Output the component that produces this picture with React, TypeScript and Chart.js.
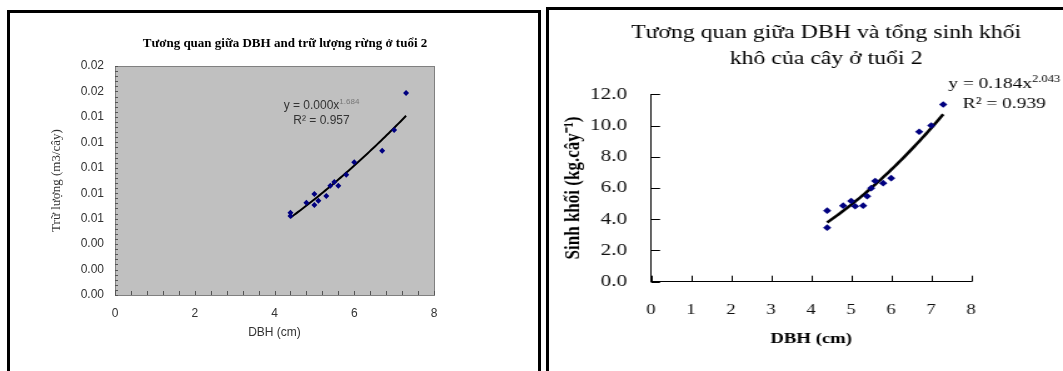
import React, { useEffect, useRef } from 'react';
import { Chart, registerables } from 'chart.js';

Chart.register(...registerables);

// ---------- Left chart data ----------
const LEFT_TITLE = 'Tương quan giữa DBH and trữ lượng rừng ở tuổi 2';
const LEFT_X_TITLE = 'DBH (cm)';
const LEFT_Y_TITLE = 'Trữ lượng (m3/cây)';
const LEFT_DBH = [4.4, 4.4, 4.8, 5.0, 5.0, 5.1, 5.3, 5.4, 5.5, 5.6, 5.8, 6.0, 6.7, 7.0, 7.3];
const LEFT_VOLUME = [0.00647, 0.00621, 0.00726, 0.00794, 0.00707, 0.00741, 0.00778, 0.00859, 0.00888, 0.00859, 0.00946, 0.01043, 0.01134, 0.01297, 0.01588];
const LEFT_EQ = 'y = 0.000x';
const LEFT_EQ_EXP = '1.684';
const LEFT_R2 = 'R² = 0.957';
const LEFT_X_MIN = 0;
const LEFT_X_MAX = 8;
const LEFT_X_STEP = 2;
const LEFT_Y_MIN = 0;
const LEFT_Y_MAX = 0.018;
const LEFT_Y_STEP = 0.002;

// ---------- Right chart data ----------
const RIGHT_TITLE = ['Tương quan giữa DBH và tổng sinh khối', 'khô của cây ở tuổi 2'];
const RIGHT_X_TITLE = 'DBH (cm)';
const RIGHT_Y_TITLE = 'Sinh khối (kg.cây⁻¹)';
const RIGHT_DBH = [4.4, 4.4, 4.8, 5.0, 5.1, 5.3, 5.4, 5.5, 5.6, 5.8, 6.0, 6.7, 7.0, 7.3];
const RIGHT_BIOMASS = [4.55, 3.46, 4.87, 5.17, 4.83, 4.87, 5.47, 5.99, 6.45, 6.31, 6.63, 9.6, 10.0, 11.35];
const RIGHT_EQ = 'y = 0.184x';
const RIGHT_EQ_EXP = '2.043';
const RIGHT_R2 = 'R² = 0.939';
const RIGHT_X_MIN = 0;
const RIGHT_X_MAX = 8;
const RIGHT_X_STEP = 1;
const RIGHT_Y_MIN = 0;
const RIGHT_Y_MAX = 12;
const RIGHT_Y_STEP = 2;

// ---------- helpers ----------
function powerFit(xs: number[], ys: number[]) {
  const lx = xs.map(Math.log);
  const ly = ys.map(Math.log);
  const n = xs.length;
  const mx = lx.reduce((a, b) => a + b, 0) / n;
  const my = ly.reduce((a, b) => a + b, 0) / n;
  let sxy = 0;
  let sxx = 0;
  for (let i = 0; i < n; i++) {
    sxy += (lx[i] - mx) * (ly[i] - my);
    sxx += (lx[i] - mx) * (lx[i] - mx);
  }
  const b = sxy / sxx;
  const a = Math.exp(my - b * mx);
  return { a, b };
}

function trendPoints(xs: number[], ys: number[], count: number) {
  const { a, b } = powerFit(xs, ys);
  const lo = Math.min(...xs);
  const hi = Math.max(...xs);
  const pts: { x: number; y: number }[] = [];
  for (let i = 0; i <= count; i++) {
    const x = lo + ((hi - lo) * i) / count;
    pts.push({ x, y: a * Math.pow(x, b) });
  }
  return pts;
}

type TextItem = {
  text: string;
  sup?: string;
  x: number;
  y: number;
  font: string;
  supFont?: string;
  color: string;
  supColor?: string;
  supShift?: number;
};

function textPlugin(items: TextItem[]) {
  return {
    id: 'freeText',
    afterDraw(chart: any) {
      const ctx = chart.ctx as CanvasRenderingContext2D;
      items.forEach((it) => {
        ctx.save();
        ctx.textBaseline = 'middle';
        ctx.textAlign = 'left';
        ctx.font = it.font;
        const w = ctx.measureText(it.text).width;
        let sw = 0;
        if (it.sup && it.supFont) {
          ctx.font = it.supFont;
          sw = ctx.measureText(it.sup).width;
        }
        const x0 = it.x - (w + sw) / 2;
        ctx.font = it.font;
        ctx.fillStyle = it.color;
        ctx.fillText(it.text, x0, it.y);
        if (it.sup && it.supFont) {
          ctx.font = it.supFont;
          ctx.fillStyle = it.supColor || it.color;
          ctx.fillText(it.sup, x0 + w, it.y - (it.supShift ?? 4));
        }
        ctx.restore();
      });
    },
  };
}

type TickCfg = { step: number; len: number; color: string; width: number };

function innerTicksPlugin(xCfg: TickCfg, yCfg: TickCfg) {
  return {
    id: 'innerTicks',
    afterDatasetsDraw(chart: any) {
      const ctx = chart.ctx as CanvasRenderingContext2D;
      const { left, bottom } = chart.chartArea;
      const xs = chart.scales.x;
      const ys = chart.scales.y;
      ctx.save();
      ctx.strokeStyle = xCfg.color;
      ctx.lineWidth = xCfg.width;
      const nx = Math.round((xs.max - xs.min) / xCfg.step);
      for (let i = 0; i <= nx; i++) {
        const px = Math.round(xs.getPixelForValue(xs.min + i * xCfg.step)) + 0.5;
        ctx.beginPath();
        ctx.moveTo(px, bottom);
        ctx.lineTo(px, bottom - xCfg.len);
        ctx.stroke();
      }
      ctx.strokeStyle = yCfg.color;
      ctx.lineWidth = yCfg.width;
      const ny = Math.round((ys.max - ys.min) / yCfg.step);
      for (let i = 0; i <= ny; i++) {
        const py = Math.round(ys.getPixelForValue(ys.min + i * yCfg.step)) + 0.5;
        ctx.beginPath();
        ctx.moveTo(left, py);
        ctx.lineTo(left + yCfg.len, py);
        ctx.stroke();
      }
      ctx.restore();
    },
  };
}

const plotFramePlugin = {
  id: 'plotFrame',
  beforeDatasetsDraw(chart: any) {
    const ctx = chart.ctx as CanvasRenderingContext2D;
    const { left, top, right, bottom } = chart.chartArea;
    ctx.save();
    ctx.fillStyle = '#C0C0C0';
    ctx.fillRect(left, top, right - left, bottom - top);
    ctx.strokeStyle = '#808080';
    ctx.lineWidth = 1;
    ctx.strokeRect(Math.round(left) + 0.5, Math.round(top) + 0.5, Math.round(right - left), Math.round(bottom - top));
    ctx.restore();
  },
};

const SANS = '"Liberation Sans", Arial, sans-serif';
const SERIF = '"Liberation Serif", "Times New Roman", serif';

function LeftChart() {
  const ref = useRef<HTMLCanvasElement | null>(null);
  useEffect(() => {
    if (!ref.current) return;
    const points = LEFT_DBH.map((x, i) => ({ x, y: LEFT_VOLUME[i] }));
    const trend = trendPoints(LEFT_DBH, LEFT_VOLUME, 60);
    const chart = new Chart(ref.current, {
      type: 'scatter',
      data: {
        datasets: [
          {
            type: 'scatter',
            data: points,
            pointStyle: 'rectRot',
            pointRadius: 3,
            backgroundColor: '#000080',
            borderColor: '#000080',
            borderWidth: 0,
          } as any,
          {
            type: 'line',
            data: trend,
            borderColor: '#000000',
            borderWidth: 2,
            pointRadius: 0,
            fill: false,
            tension: 0,
          } as any,
        ],
      },
      options: {
        responsive: false,
        animation: false,
        events: [],
        layout: { padding: { top: 53, right: 103, left: 0, bottom: 0 } },
        plugins: {
          legend: { display: false },
          tooltip: { enabled: false },
          title: { display: false },
        },
        scales: {
          x: {
            type: 'linear',
            min: LEFT_X_MIN,
            max: LEFT_X_MAX,
            ticks: { stepSize: LEFT_X_STEP, padding: 11.8, color: '#333', font: { family: SANS, size: 12 } },
            grid: { display: false, drawTicks: false },
            border: { display: false },
            title: {
              display: true,
              text: LEFT_X_TITLE,
              color: '#333',
              font: { family: SANS, size: 12 },
              padding: { top: 0, bottom: 30.8 },
            },
            afterFit: (s: any) => {
              s.height = 76;
            },
          },
          y: {
            type: 'linear',
            min: LEFT_Y_MIN,
            max: LEFT_Y_MAX,
            ticks: {
              stepSize: LEFT_Y_STEP,
              padding: 11,
              color: '#333',
              font: { family: SANS, size: 12 },
              callback: (v: any) => Number(v).toFixed(2),
            },
            grid: { display: false, drawTicks: false },
            border: { display: false },
            title: {
              display: true,
              text: LEFT_Y_TITLE,
              color: '#333',
              font: { family: SERIF, size: 13 },
              padding: { top: 39.2, bottom: 0 },
            },
            afterFit: (s: any) => {
              s.width = 105;
            },
          },
        },
      },
      plugins: [
        plotFramePlugin,
        innerTicksPlugin(
          { step: 0.4, len: 4, color: '#555', width: 1 },
          { step: 0.0004, len: 3, color: '#555', width: 1 }
        ),
        textPlugin([
          { text: LEFT_TITLE, x: 275, y: 31, font: `bold 13px ${SERIF}`, color: '#000' },
          {
            text: LEFT_EQ,
            sup: LEFT_EQ_EXP,
            x: 311.5,
            y: 93,
            font: `12px ${SANS}`,
            supFont: `8px ${SANS}`,
            color: '#333',
            supColor: '#777',
            supShift: 4,
          },
          { text: LEFT_R2, x: 311.5, y: 108, font: `12px ${SANS}`, color: '#333' },
        ]),
      ],
    } as any);
    return () => chart.destroy();
  }, []);
  return (
    <canvas
      ref={ref}
      width={527}
      height={358}
      style={{ position: 'absolute', left: 10, top: 13, width: 527, height: 358 }}
    />
  );
}

function RightChart() {
  const ref = useRef<HTMLCanvasElement | null>(null);
  useEffect(() => {
    if (!ref.current) return;
    const points = RIGHT_DBH.map((x, i) => ({ x, y: RIGHT_BIOMASS[i] }));
    const trend = trendPoints(RIGHT_DBH, RIGHT_BIOMASS, 60);
    const chart = new Chart(ref.current, {
      type: 'scatter',
      data: {
        datasets: [
          {
            type: 'scatter',
            data: points,
            pointStyle: 'rectRot',
            pointRadius: 3.3,
            backgroundColor: '#000080',
            borderColor: '#000080',
            borderWidth: 0,
          } as any,
          {
            type: 'line',
            data: trend,
            borderColor: '#000000',
            borderWidth: 2.6,
            pointRadius: 0,
            fill: false,
            tension: 0,
          } as any,
        ],
      },
      options: {
        responsive: false,
        animation: false,
        events: [],
        layout: { padding: { top: 84.3, right: 73.4, left: 0, bottom: 0 } },
        plugins: {
          legend: { display: false },
          tooltip: { enabled: false },
          title: { display: false },
        },
        scales: {
          x: {
            type: 'linear',
            min: RIGHT_X_MIN,
            max: RIGHT_X_MAX,
            ticks: { stepSize: RIGHT_X_STEP, padding: 19.3, color: '#111', font: { family: SERIF, size: 15 } },
            grid: { display: false, drawTicks: false },
            border: { display: true, color: '#000', width: 1 },
            title: {
              display: true,
              text: RIGHT_X_TITLE,
              color: '#000',
              font: { family: SERIF, size: 15, weight: 'bold' },
              padding: { top: 0, bottom: 23 },
            },
            afterFit: (s: any) => {
              s.height = 89.3;
            },
          },
          y: {
            type: 'linear',
            min: RIGHT_Y_MIN,
            max: RIGHT_Y_MAX,
            ticks: {
              stepSize: RIGHT_Y_STEP,
              padding: 19.2,
              color: '#111',
              font: { family: SERIF, size: 17 },
              callback: (v: any) => Number(v).toFixed(1),
            },
            grid: { display: false, drawTicks: false },
            border: { display: true, color: '#000', width: 1 },
            title: {
              display: true,
              text: RIGHT_Y_TITLE,
              color: '#000',
              font: { family: SERIF, size: 17, weight: 'bold' },
              padding: { top: 9, bottom: 0 },
            },
            afterFit: (s: any) => {
              s.width = 81.6;
            },
          },
        },
      },
      plugins: [
        innerTicksPlugin(
          { step: RIGHT_X_STEP, len: 6, color: '#000', width: 1 },
          { step: RIGHT_Y_STEP, len: 7.2, color: '#000', width: 1 }
        ),
        textPlugin([
          { text: RIGHT_TITLE[0], x: 221.6, y: 23, font: `19px ${SERIF}`, color: '#000' },
          { text: RIGHT_TITLE[1], x: 221.6, y: 49, font: `19px ${SERIF}`, color: '#000' },
          {
            text: RIGHT_EQ,
            sup: RIGHT_EQ_EXP,
            x: 364,
            y: 74,
            font: `15.5px ${SERIF}`,
            supFont: `10px ${SERIF}`,
            color: '#000',
            supShift: 5,
          },
          { text: RIGHT_R2, x: 364, y: 94, font: `15.5px ${SERIF}`, color: '#000' },
        ]),
      ],
    } as any);
    return () => chart.destroy();
  }, []);
  return (
    <canvas
      ref={ref}
      width={411}
      height={361}
      style={{ position: 'absolute', left: 549, top: 10, width: 514, height: 361 }}
    />
  );
}

export default function App() {
  return (
    <div
      style={{
        position: 'absolute',
        left: 0,
        top: 0,
        width: 1063,
        height: 371,
        overflow: 'hidden',
        background: '#ffffff',
      }}
    >
      <div
        style={{
          position: 'absolute',
          left: 7,
          top: 10,
          width: 534,
          height: 400,
          border: '3px solid #000',
          boxSizing: 'border-box',
        }}
      />
      <div
        style={{
          position: 'absolute',
          left: 546,
          top: 7,
          width: 600,
          height: 400,
          border: '3px solid #000',
          boxSizing: 'border-box',
        }}
      />
      <LeftChart />
      <RightChart />
    </div>
  );
}
